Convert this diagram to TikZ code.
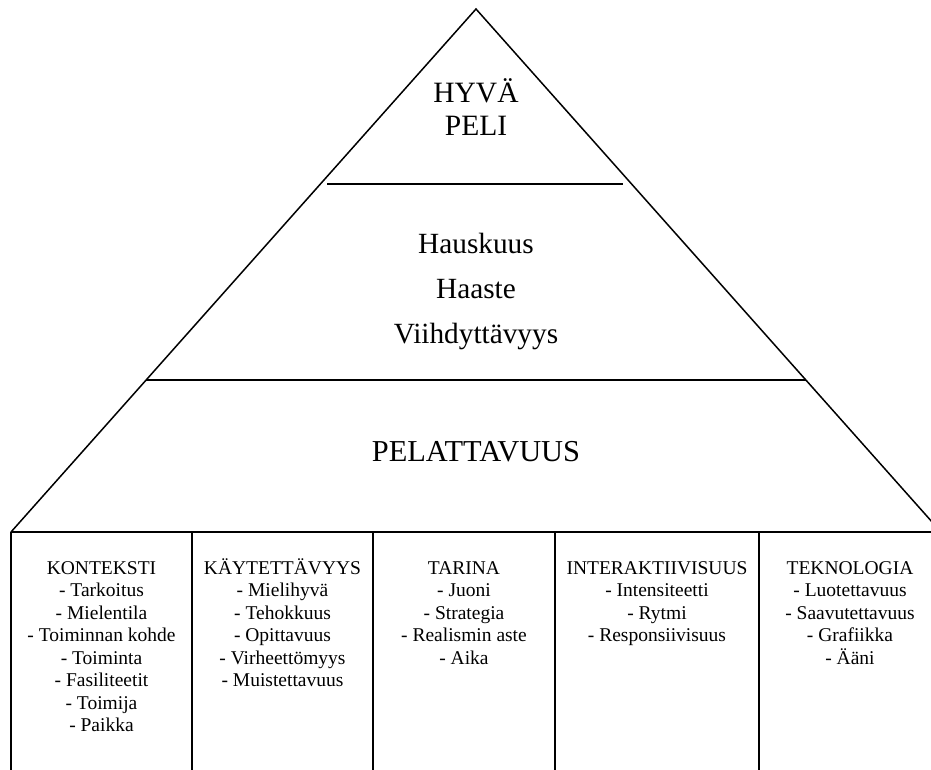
\documentclass[tikz,border=0pt]{standalone}
\usepackage{fontspec}
\setmainfont{Liberation Serif}
\begin{document}
\begin{tikzpicture}[x=1pt,y=-1pt,
  slope/.style={line width=1.5pt},
  divider/.style={line width=1.8pt},
  baseline/.style={line width=2.5pt},
  colline/.style={line width=2pt},
  bigtext/.style={font=\fontsize{29.5}{33}\selectfont, align=center, inner sep=0pt},
  playtext/.style={font=\fontsize{30.4}{33}\selectfont, align=center, inner sep=0pt},
  midtext/.style={font=\fontsize{29.3}{45}\selectfont, align=center, inner sep=0pt},
  coltext/.style={font=\fontsize{19.5}{22.5}\selectfont, align=center, inner sep=0pt, anchor=north}]
\useasboundingbox (0,0) rectangle (931,769);
\clip (0,0) rectangle (931,769);
\fill[white] (0,0) rectangle (931,769);

% pyramid outline
\coordinate (apex) at (476,9);
\coordinate (bl) at (11,532);
\coordinate (br) at (941,532);
\draw[slope] (bl) -- (apex) -- (br);

% layer dividers
\coordinate (d1l) at (327,184);
\coordinate (d1r) at (623,184);
\coordinate (d2l) at (146,380);
\coordinate (d2r) at (806,380);
\draw[divider] (d1l) -- (d1r);
\draw[divider] (d2l) -- (d2r);

% base of the pyramid
\draw[baseline] (bl) -- (br);

% column separators
\foreach \x in {11,192,373,555,759}
  \draw[colline] (\x,532) -- (\x,775);

% pyramid texts
\node[bigtext, anchor=north] (top) at (476,76) {\rule{0pt}{26pt}HYVÄ\\PELI};
\node[midtext, anchor=north] (mid) at (476,228) {\rule{0pt}{25pt}Hauskuus\\Haaste\\Viihdyttävyys};
\node[playtext, anchor=base] (play) at (476,461) {PELATTAVUUS};

% column texts
\node[coltext] (c1) at (101.5,557) {\rule{0pt}{17pt}KONTEKSTI\\- Tarkoitus\\- Mielentila\\- Toiminnan kohde\\- Toiminta\\- Fasiliteetit\\- Toimija\\- Paikka};
\node[coltext] (c2) at (282.5,557) {\rule{0pt}{17pt}KÄYTETTÄVYYS\\- Mielihyvä\\- Tehokkuus\\- Opittavuus\\- Virheettömyys\\- Muistettavuus};
\node[coltext] (c3) at (464,557) {\rule{0pt}{17pt}TARINA\\- Juoni\\- Strategia\\- Realismin aste\\- Aika};
\node[coltext] (c4) at (657,557) {\rule{0pt}{17pt}INTERAKTIIVISUUS\\- Intensiteetti\\- Rytmi\\- Responsiivisuus};
\node[coltext] (c5) at (850,557) {\rule{0pt}{17pt}TEKNOLOGIA\\- Luotettavuus\\- Saavutettavuus\\- Grafiikka\\- Ääni};
\end{tikzpicture}
\end{document}
